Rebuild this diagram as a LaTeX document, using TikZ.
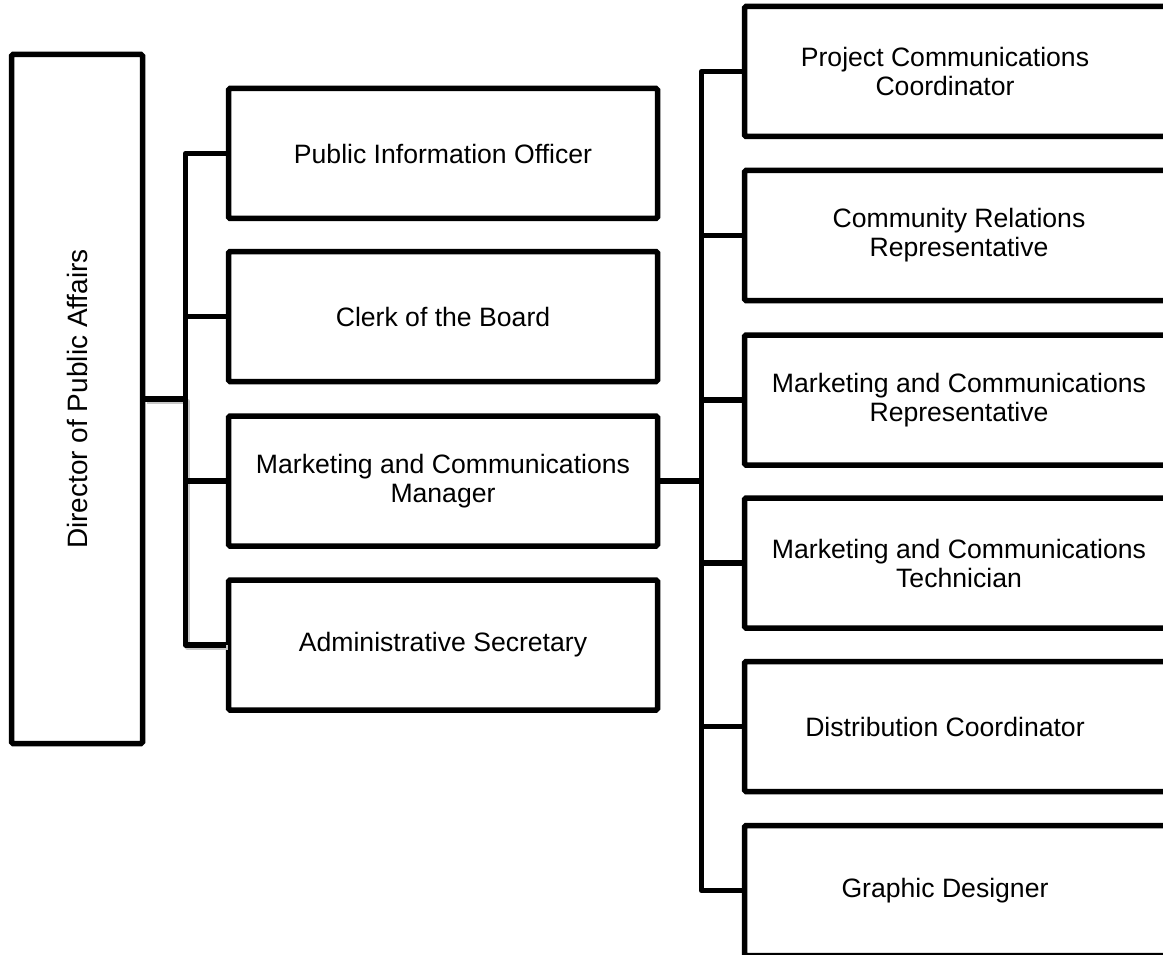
\documentclass[tikz,border=0pt]{standalone}
\usepackage{fontspec}
\setmainfont{Liberation Sans}
\begin{document}
\begin{tikzpicture}[x=1pt,y=-1pt,
  frame/.style={draw, line width=5.5pt, rounded corners=1.5pt, inner sep=0pt},
  unit/.style={frame, minimum width=429pt, minimum height=130pt},
  lbl/.style={font=\fontsize{26.6}{29}\selectfont, align=center, inner sep=0pt},
  wire/.style={line width=5.5pt, line join=round},
  shade/.style={line width=5.5pt, line join=round, draw=black!22,
    transform canvas={xshift=2pt,yshift=-2.5pt}}]
\useasboundingbox (0,0) rectangle (1163,955);
\clip (0,0) rectangle (1163,955);

% head of department
\node[frame, minimum width=131pt, minimum height=689pt] (dir) at (77,399) {};
\node[lbl, rotate=90, font=\fontsize{28}{32}\selectfont] (dirt) at (dir.center) {Director of Public Affairs};

% direct reports
\node[unit] (pio) at (443,153.5) {};
\node[lbl] (piot) at (pio.center) {Public Information Officer};
\node[unit] (clerk) at (443,316.5) {};
\node[lbl] (clerkt) at (clerk.center) {Clerk of the Board};
\node[unit] (mcm) at (443,481) {};
\node[lbl] (mcmt) at (mcm.center) {Marketing and Communications\\Manager};
\node[unit] (adm) at (443,645) {};
\node[lbl] (admt) at (adm.center) {Administrative Secretary};

% staff under the marketing manager
\node[unit] (pcc) at (959,71.5) {};
\node[lbl, xshift=-14pt] (pcct) at (pcc.center) {Project Communications\\Coordinator};
\node[unit] (crr) at (959,235.5) {};
\node[lbl] (crrt) at (crr.center) {Community Relations\\Representative};
\node[unit] (mcr) at (959,400) {};
\node[lbl] (mcrt) at (mcr.center) {Marketing and Communications\\Representative};
\node[unit] (mct) at (959,563) {};
\node[lbl] (mctt) at (mct.center) {Marketing and Communications\\Technician};
\node[unit] (dc) at (959,726.5) {};
\node[lbl, xshift=-14pt] (dct) at (dc.center) {Distribution Coordinator};
\node[unit] (gd) at (959,890.5) {};
\node[lbl, xshift=-14pt] (gdt) at (gd.center) {Graphic Designer};

% bus lines
\coordinate (lbus) at (185.5,0);
\coordinate (rbus) at (701.5,0);

% soft shadow along the lower left bus
\draw[shade] (dir.east) -- (dir.east -| lbus) -- (lbus |- adm.west) -- (adm.west);

\draw[wire] (dir.east) -- (dir.east -| lbus);
\draw[wire] (pio.west) -- (lbus |- pio.west) -- (lbus |- adm.west) -- (adm.west);
\draw[wire] (clerk.west) -- (lbus |- clerk.west);
\draw[wire] (mcm.west) -- (lbus |- mcm.west);

\draw[wire] (mcm.east) -- (mcm.east -| rbus);
\draw[wire] (pcc.west) -- (rbus |- pcc.west) -- (rbus |- gd.west) -- (gd.west);
\draw[wire] (crr.west) -- (rbus |- crr.west);
\draw[wire] (mcr.west) -- (rbus |- mcr.west);
\draw[wire] (mct.west) -- (rbus |- mct.west);
\draw[wire] (dc.west) -- (rbus |- dc.west);
\end{tikzpicture}
\end{document}
